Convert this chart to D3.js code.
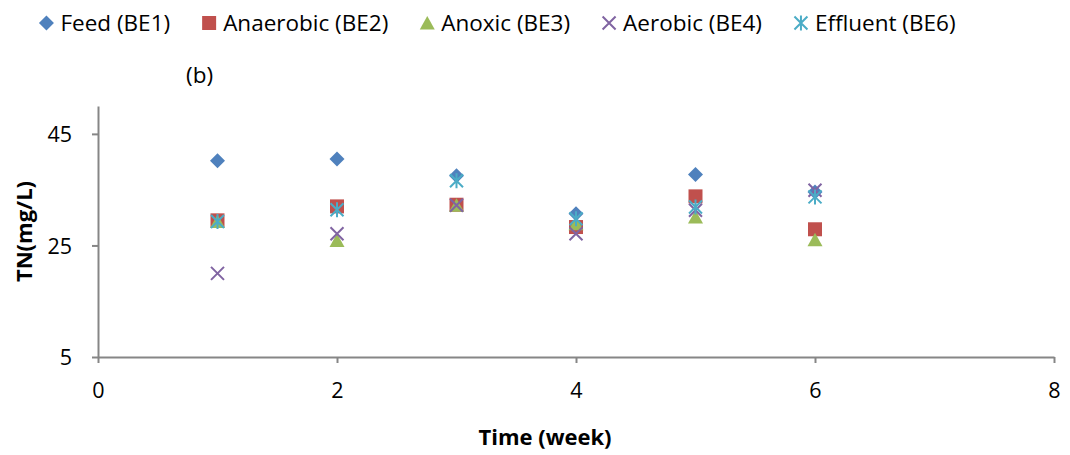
<!DOCTYPE html>
<html>
<head>
<meta charset="utf-8">
<script src="https://cdn.jsdelivr.net/npm/d3@7"></script>
<style>
body { margin: 0; background: #fff; }
text { font-family: "Open Sans", sans-serif; fill: #000; }
</style>
</head>
<body>
<svg id="chart" width="1070" height="455"></svg>
<script>
const weeks = [1, 2, 3, 4, 5, 6]
const feed = [40.2, 40.5, 37.5, 30.7, 37.7, 34.6]
const anaerobic = [29.5, 32.0, 32.3, 28.3, 33.8, 27.9]
const anoxic = [29.3, 25.9, 32.2, 28.9, 30.1, 26.0]
const aerobic = [20.0, 27.1, 32.2, 27.1, 31.3, 34.9]
const effluent = [29.3, 31.4, 36.6, 29.8, 31.9, 33.7]

const seriesNames = ["Feed (BE1)", "Anaerobic (BE2)", "Anoxic (BE3)", "Aerobic (BE4)", "Effluent (BE6)"]
const seriesValues = [feed, anaerobic, anoxic, aerobic, effluent]
const colours = ["#4F81BD", "#C0504D", "#9BBB59", "#8064A2", "#4BACC6"]
const shapes = ["diamond", "square", "triangle", "cross", "star"]
const xTicks = [0, 2, 4, 6, 8]
const yTicks = [5, 25, 45]

const svg = d3.select("#chart")
const x = d3.scaleLinear().domain([0, 8]).range([98, 1054])
const y = d3.scaleLinear().domain([5, 50]).range([357, 106])
const axisColour = "#868686"

// marker path centred on 0,0
function marker(shape, r) {
    if (shape == "diamond") return `M0,${-r}L${r},0L0,${r}L${-r},0Z`
    if (shape == "square") return `M${-r + 0.5},${-r + 0.5}h${2 * r - 1}v${2 * r - 1}h${-2 * r + 1}Z`
    if (shape == "triangle") return `M0,${-r + 0.5}L${r},${r - 1}L${-r},${r - 1}Z`
    if (shape == "cross") return `M${-r + 1},${-r + 1}L${r - 1},${r - 1}M${r - 1},${-r + 1}L${-r + 1},${r - 1}`
    return `M${-r + 1},${-r + 1}L${r - 1},${r - 1}M${r - 1},${-r + 1}L${-r + 1},${r - 1}M0,${-r}L0,${r}`
}
function drawMarker(g, shape, colour) {
    const open = shape == "cross" || shape == "star"
    g.append("path")
        .attr("d", marker(shape, 7.5))
        .attr("fill", open ? "none" : colour)
        .attr("stroke", open ? colour : "none")
        .attr("stroke-width", 2)
}

// axes
const yAxis = svg.append("g")
    .attr("transform", `translate(${x(0)},0)`)
    .call(d3.axisLeft(y).tickValues(yTicks).tickSize(6).tickSizeOuter(0).tickPadding(20))
const xAxis = svg.append("g")
    .attr("transform", `translate(0,${y(5)})`)
    .call(d3.axisBottom(x).tickValues(xTicks).tickSize(6).tickSizeOuter(0).tickPadding(20))
for (const a of [yAxis, xAxis]) {
    a.select(".domain").attr("stroke", axisColour).attr("stroke-width", 2)
    a.selectAll(".tick line").attr("stroke", axisColour).attr("stroke-width", 2)
    a.selectAll(".tick text").attr("font-family", "Open Sans").attr("font-size", 21.5).attr("fill", "#000")
}
yAxis.selectAll(".tick text").attr("dy", "0.36em")

// points, series drawn in order so later ones sit on top
seriesValues.forEach((vals, i) => {
    const g = svg.append("g")
    vals.forEach((v, j) => {
        const m = g.append("g").attr("transform", `translate(${x(weeks[j])},${y(v)})`)
        drawMarker(m, shapes[i], colours[i])
    })
})

// axis titles
svg.append("text")
    .attr("x", 545).attr("y", 445)
    .attr("text-anchor", "middle")
    .attr("font-size", 22).attr("font-weight", "bold")
    .text("Time (week)")
svg.append("text")
    .attr("transform", `translate(32,${(y(5) + y(50)) / 2}) rotate(-90)`)
    .attr("text-anchor", "middle")
    .attr("font-size", 22).attr("font-weight", "bold")
    .text("TN(mg/L)")

svg.append("text")
    .attr("x", 186).attr("y", 83)
    .attr("font-size", 22.5)
    .text("(b)")

// legend
const legend = svg.append("g")
const gap = 39
let lx = 0
seriesNames.forEach((name, i) => {
    const item = legend.append("g").attr("transform", `translate(${lx},0)`)
    drawMarker(item.append("g").attr("transform", "translate(0,23)"), shapes[i], colours[i])
    const t = item.append("text").attr("x", 14).attr("y", 31).attr("font-size", 22.5).text(name)
    lx += 14 + t.node().getComputedTextLength() + gap
})
const legendW = lx - gap
legend.attr("transform", `translate(${501 - legendW / 2},0)`)
</script>
</body>
</html>
